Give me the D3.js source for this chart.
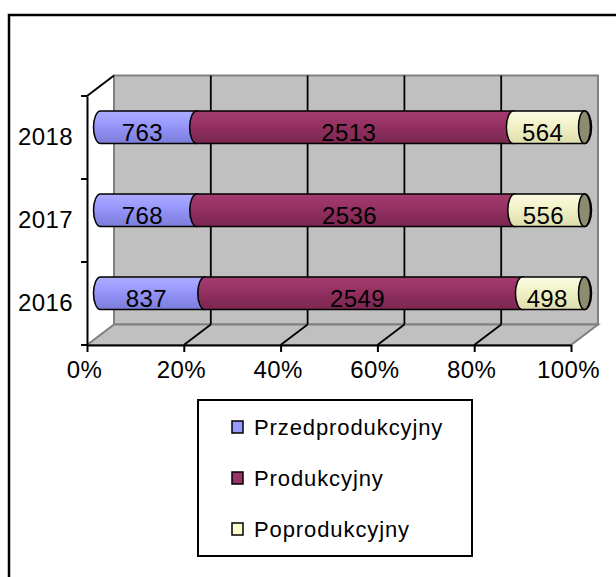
<!DOCTYPE html>
<html>
<head>
<meta charset="utf-8">
<script src="https://cdn.jsdelivr.net/npm/d3@7"></script>
<style>
  body { margin: 0; background: #fff; }
  text { font-family: "Liberation Sans", Arial, sans-serif; fill: #000; }
</style>
</head>
<body>
<div class="chart"></div>
<script>
var years = ["2016", "2017", "2018"];
var seriesNames = ["Przedprodukcyjny", "Produkcyjny", "Poprodukcyjny"];
var przed = [837, 768, 763];
var prod = [2549, 2536, 2513];
var popr = [498, 556, 564];
var tickValues = [0, 0.2, 0.4, 0.6, 0.8, 1];

var colors = ["#9999ff", "#993366", "#ffffcc"];
var gradStops = [
    ["#acacff", "#9c9cff", "#8e8ef2", "#7c7cd8"],
    ["#a43c6e", "#993366", "#8c2d5c", "#7a2750"],
    ["#fbfbe4", "#f4f4cc", "#ececc0", "#dcdcac"]
];

var width = 616, height = 577;
var depth = [27, -20.5];   // oblique offset front -> back
var rows = years.map(function(y, i) {
    return {year: y, Przedprodukcyjny: przed[i], Produkcyjny: prod[i], Poprodukcyjny: popr[i]};
});

var x = d3.scaleLinear().domain([0, 1]).range([87, 571]);
var y = d3.scaleBand().domain(years.slice().reverse()).range([96, 345]).paddingInner(0).paddingOuter(0);

var stack = d3.stack().keys(seriesNames).offset(d3.stackOffsetExpand);
var layers = stack(rows);

var svg = d3.select(".chart").append("svg")
    .attr("width", width)
    .attr("height", height);

var defs = svg.append("defs");
seriesNames.forEach(function(name, i) {
    var g = defs.append("linearGradient")
        .attr("id", "grad" + i)
        .attr("x1", 0).attr("y1", 0).attr("x2", 0).attr("y2", 1);
    [0, 0.35, 0.6, 1].forEach(function(o, j) {
        g.append("stop").attr("offset", o).attr("stop-color", gradStops[i][j]);
    });
});

// outer frame
svg.append("rect")
    .attr("x", 9).attr("y", 15)
    .attr("width", 640).attr("height", 620)
    .attr("fill", "none")
    .attr("stroke", "#000")
    .attr("stroke-width", 2.5);

var x0 = x(0), x1 = x(1), yT = y.range()[0], yB = y.range()[1];
var dx = depth[0], dy = depth[1];

// back wall
svg.append("rect")
    .attr("x", x0 + dx).attr("y", yT + dy)
    .attr("width", x1 - x0).attr("height", yB - yT)
    .attr("fill", "#c0c0c0")
    .attr("stroke", "#808080")
    .attr("stroke-width", 2);

// floor
svg.append("path")
    .attr("d", "M" + x0 + "," + yB + "L" + x1 + "," + yB + "L" + (x1 + dx) + "," + (yB + dy) +
        "L" + (x0 + dx) + "," + (yB + dy) + "Z")
    .attr("fill", "#c0c0c0")
    .attr("stroke", "#808080")
    .attr("stroke-width", 2);

// gridlines on wall and floor
var inner = tickValues.slice(1, -1);
svg.selectAll("line.wallgrid")
    .data(inner).enter().append("line")
    .attr("class", "wallgrid")
    .attr("x1", function(d) { return x(d) + dx; })
    .attr("x2", function(d) { return x(d) + dx; })
    .attr("y1", yT + dy).attr("y2", yB + dy)
    .attr("stroke", "#000").attr("stroke-width", 1.8);
svg.selectAll("line.floorgrid")
    .data(inner).enter().append("line")
    .attr("class", "floorgrid")
    .attr("x1", function(d) { return x(d); })
    .attr("x2", function(d) { return x(d) + dx; })
    .attr("y1", yB).attr("y2", yB + dy)
    .attr("stroke", "#000").attr("stroke-width", 1.8);

// side wall top edge
svg.append("line")
    .attr("x1", x0).attr("y1", yT)
    .attr("x2", x0 + dx).attr("y2", yT + dy)
    .attr("stroke", "#000").attr("stroke-width", 2);

// bars (cylinders at mid depth)
var barH = 32.5, rx = 7;
var mdx = dx / 2, mdy = dy / 2;

function segPath(xa, xb, t, b) {
    var ry = (b - t) / 2;
    return "M" + xa + "," + t + "L" + xb + "," + t +
        "A" + rx + "," + ry + " 0 0 1 " + xb + "," + b +
        "L" + xa + "," + b +
        "A" + rx + "," + ry + " 0 0 1 " + xa + "," + t + "Z";
}

layers.forEach(function(layer, i) {
    var g = svg.append("g").attr("class", "series");
    g.selectAll("path")
        .data(layer).enter().append("path")
        .attr("d", function(d) {
            var cy = y(d.data.year) + y.bandwidth() / 2 + mdy;
            return segPath(x(d[0]) + mdx, x(d[1]) + mdx, cy - barH / 2, cy + barH / 2);
        })
        .attr("fill", "url(#grad" + i + ")")
        .attr("stroke", "#000")
        .attr("stroke-width", 1.5);
    if (i === layers.length - 1) {
        g.selectAll("ellipse")
            .data(layer).enter().append("ellipse")
            .attr("cx", function(d) { return x(d[1]) + mdx; })
            .attr("cy", function(d) { return y(d.data.year) + y.bandwidth() / 2 + mdy; })
            .attr("rx", rx - 1)
            .attr("ry", barH / 2)
            .attr("fill", "#8c8c70")
            .attr("stroke", "#000")
            .attr("stroke-width", 1.5);
    }
});

// value labels
var ldx = dx * 0.27, ldy = dy * 0.27;
layers.forEach(function(layer, i) {
    svg.selectAll("text.val" + i)
        .data(layer).enter().append("text")
        .attr("class", "val" + i)
        .attr("x", function(d) { return x((d[0] + d[1]) / 2) + ldx; })
        .attr("y", function(d) { return y(d.data.year) + y.bandwidth() / 2 + ldy; })
        .attr("dy", "0.36em")
        .attr("text-anchor", "middle")
        .style("font-size", "24px")
        .style("letter-spacing", "0.4px")
        .text(function(d) { return d.data[layer.key]; });
});

// bottom axis
var xAxis = d3.axisBottom(x)
    .tickValues(tickValues)
    .tickFormat(d3.format(".0%"))
    .tickSize(7)
    .tickSizeOuter(0)
    .tickPadding(9);
var gx = svg.append("g")
    .attr("transform", "translate(0," + yB + ")")
    .call(xAxis);
gx.select(".domain").attr("stroke", "#000").attr("stroke-width", 2);
gx.selectAll(".tick line").attr("stroke", "#000").attr("stroke-width", 2);
gx.selectAll(".tick text")
    .attr("dx", -3)
    .style("font-size", "24px")
    .style("font-family", "'Liberation Sans', Arial, sans-serif")
    .style("letter-spacing", "0.4px");

// left axis
var yAxis = d3.axisLeft(y).tickSize(0).tickPadding(14);
var gy = svg.append("g")
    .attr("transform", "translate(" + x0 + ",0)")
    .call(yAxis);
gy.select(".domain").attr("stroke", "#000").attr("stroke-width", 2);
gy.selectAll(".tick text")
    .style("font-size", "24px")
    .style("font-family", "'Liberation Sans', Arial, sans-serif")
    .style("letter-spacing", "0.4px");
var bounds = y.domain().map(function(d) { return y(d); }).concat([yB]);
gy.selectAll("line.bound")
    .data(bounds).enter().append("line")
    .attr("class", "bound")
    .attr("x1", -6).attr("x2", 0)
    .attr("y1", function(d) { return d; })
    .attr("y2", function(d) { return d; })
    .attr("stroke", "#000").attr("stroke-width", 2);

// legend
var legend = svg.append("g").attr("transform", "translate(198,400)");
legend.append("rect")
    .attr("width", 274).attr("height", 156)
    .attr("fill", "#fff")
    .attr("stroke", "#000")
    .attr("stroke-width", 2);
var items = legend.selectAll("g.item")
    .data(seriesNames).enter().append("g")
    .attr("class", "item")
    .attr("transform", function(d, i) { return "translate(34," + (21 + i * 51) + ")"; });
items.append("rect")
    .attr("width", 11).attr("height", 12)
    .attr("fill", function(d, i) { return colors[i]; })
    .attr("stroke", "#000")
    .attr("stroke-width", 1.5);
items.append("text")
    .attr("x", 22).attr("y", 14)
    .style("font-size", "22px")
    .style("letter-spacing", "0.9px")
    .text(function(d) { return d; });
</script>
</body>
</html>
